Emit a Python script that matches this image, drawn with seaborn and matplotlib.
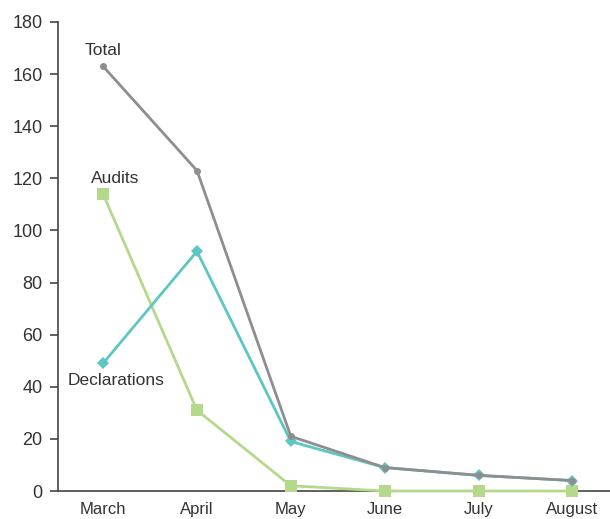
import matplotlib
matplotlib.use("Agg")
import matplotlib.pyplot as plt
import seaborn as sns
import pandas as pd

months = ["March", "April", "May", "June", "July", "August"]
total = [163, 123, 21, 9, 6, 4]
declarations = [49, 92, 19, 9, 6, 4]
audits = [114, 31, 2, 0, 0, 0]

sns.set_style("white")
plt.rcParams['font.family'] = ['Liberation Sans', 'DejaVu Sans']

fig = plt.figure(figsize=(6.1, 5.19), dpi=100)
ax = fig.add_axes([58/610, 28/519, 1 - 58/610, (491-22)/519])

text_col = "#333333"
c_total = "#8e8e91"
c_decl = "#5cc7c2"
c_aud = "#b4d98b"

df_a = pd.DataFrame({"month": months, "value": audits})
df_d = pd.DataFrame({"month": months, "value": declarations})
df_t = pd.DataFrame({"month": months, "value": total})

sns.lineplot(data=df_a, x="month", y="value", ax=ax, color=c_aud, lw=2,
             marker="s", markersize=8, markeredgewidth=0, sort=False, zorder=5,
             clip_on=False)
sns.lineplot(data=df_d, x="month", y="value", ax=ax, color=c_decl, lw=2,
             marker="D", markersize=6.5, markeredgewidth=0, sort=False, zorder=6,
             clip_on=False)
sns.lineplot(data=df_t, x="month", y="value", ax=ax, color=c_total, lw=2,
             marker="o", markersize=5, markeredgewidth=0, sort=False, zorder=7,
             clip_on=False)

ax.set_xlim(-0.48, 5.4)
ax.set_ylim(0, 180)
ax.set_yticks(range(0, 181, 20))
ax.set_xlabel("")
ax.set_ylabel("")

for s in ["top", "right"]:
    ax.spines[s].set_visible(False)
for s in ["left", "bottom"]:
    ax.spines[s].set_color("#444444")
    ax.spines[s].set_linewidth(1.2)

ax.tick_params(axis="y", length=6, width=1.2, color="#444444", direction="out",
               labelsize=13, labelcolor=text_col, pad=5, left=True)
ax.tick_params(axis="x", length=0, labelsize=12, labelcolor=text_col, pad=8)

ax.text(0, 169, "Total", ha="center", va="center", fontsize=12.5, color=text_col)
ax.text(0.13, 120, "Audits", ha="center", va="center", fontsize=12.5, color=text_col)
ax.text(0.14, 42.5, "Declarations", ha="center", va="center", fontsize=12.5, color=text_col)

fig.savefig("out.png", dpi=100)
